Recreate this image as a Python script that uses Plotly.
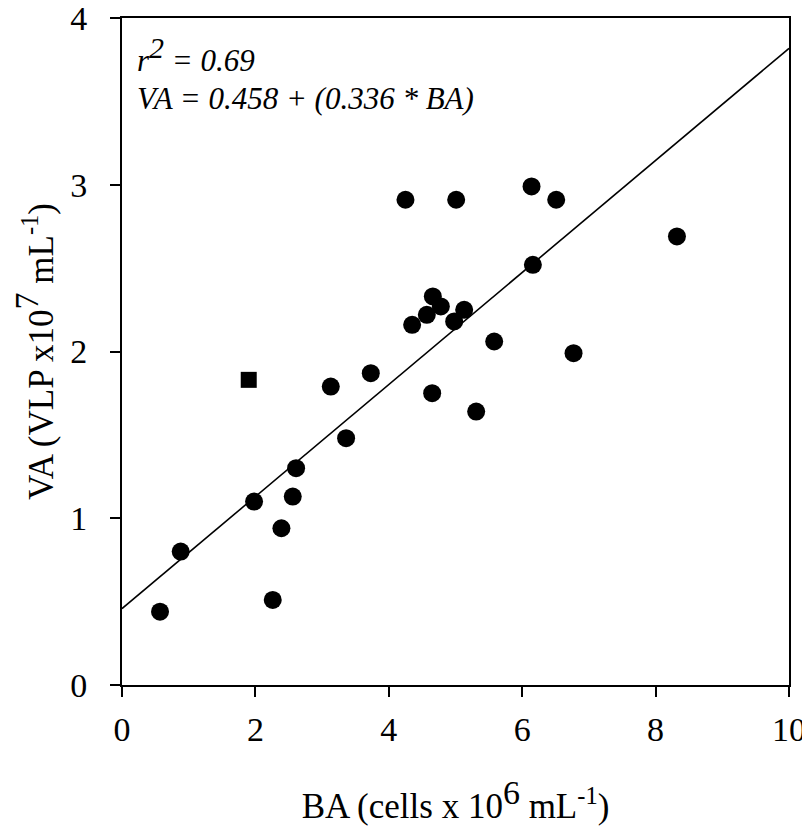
import plotly.graph_objects as go

# Data
ba = [0.57, 0.88, 1.98, 2.26, 2.39, 2.56, 2.61, 3.13, 3.36, 3.73, 4.25, 4.35, 4.57,
      4.65, 4.66, 4.78, 4.98, 5.01, 5.13, 5.31, 5.58, 6.14, 6.16, 6.51, 6.77, 8.32]
va = [0.44, 0.80, 1.10, 0.51, 0.94, 1.13, 1.30, 1.79, 1.48, 1.87, 2.91, 2.16, 2.22,
      1.75, 2.33, 2.27, 2.18, 2.91, 2.25, 1.64, 2.06, 2.99, 2.52, 2.91, 1.99, 2.69]
sq_ba = [1.90]
sq_va = [1.83]

intercept = 0.458
slope = 0.336
fit_x = [0, 10]
fit_y = [intercept + slope * v for v in fit_x]

FONT = "Liberation Serif"

fig = go.Figure()
fig.add_trace(go.Scatter(x=fit_x, y=fit_y, mode="lines",
                         line=dict(color="black", width=1.6), showlegend=False,
                         cliponaxis=False))
fig.add_trace(go.Scatter(x=ba, y=va, mode="markers",
                         marker=dict(symbol="circle", size=18, color="black"),
                         showlegend=False))
fig.add_trace(go.Scatter(x=sq_ba, y=sq_va, mode="markers",
                         marker=dict(symbol="square", size=16, color="black"),
                         showlegend=False))

axis_common = dict(showline=True, linecolor="black", linewidth=2, mirror=True,
                   ticks="outside", ticklen=10, tickwidth=2, tickcolor="black",
                   showgrid=False, zeroline=False, automargin=False,
                   ticklabeloverflow="allow",
                   tickfont=dict(family=FONT, size=34, color="black"))

fig.update_xaxes(range=[0, 10], tickvals=[0, 2, 4, 6, 8, 10], ticklabelstandoff=3,
                 title=dict(text="BA (cells x 10<sup><span style='font-size:34px'>6</span></sup> mL<sup>-1</sup>)",
                            font=dict(family=FONT, size=35, color="black"), standoff=47),
                 **axis_common)
fig.update_yaxes(range=[0, 4], tickvals=[0, 1, 2, 3, 4], ticklabelstandoff=16,
                 title=dict(text="VA (VLP x10<sup><span style='font-size:34px'>7</span></sup> mL<sup>-1</sup>)",
                            font=dict(family=FONT, size=35, color="black"), standoff=25),
                 **axis_common)

fig.add_annotation(xref="paper", yref="paper", x=0.02, y=0.946, xanchor="left", yanchor="middle",
                   align="left", showarrow=False,
                   text="<i>r<sup><span style='font-size:30px'>2</span></sup> = 0.69</i>",
                   font=dict(family=FONT, size=31, color="black"))
fig.add_annotation(xref="paper", yref="paper", x=0.02, y=0.8786, xanchor="left", yanchor="middle",
                   align="left", showarrow=False,
                   text="<i>VA = 0.458 + (0.336 * BA)</i>",
                   font=dict(family=FONT, size=31, color="black"))

fig.update_layout(width=802, height=822,
                  margin=dict(l=114, r=21, t=10, b=145),
                  paper_bgcolor="white", plot_bgcolor="white")

fig.write_html("out.html")
